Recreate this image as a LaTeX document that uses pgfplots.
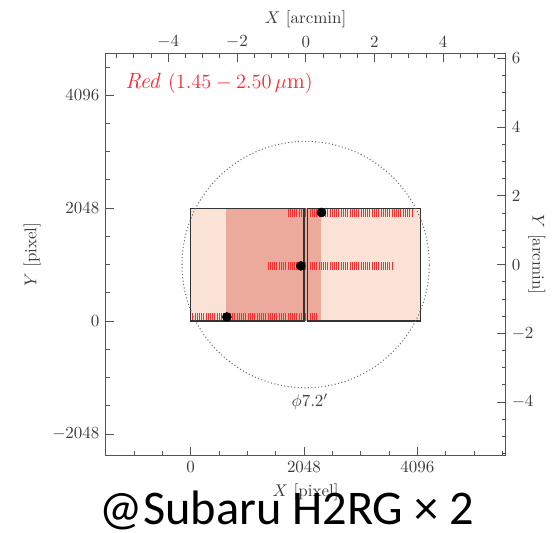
\documentclass[border=0pt]{standalone}
\usepackage{fontspec}
\newfontfamily\carlito{Carlito}
\usepackage{pgfplots}
\pgfplotsset{compat=1.18}
\definecolor{peach}{RGB}{250,227,214}
\definecolor{salmon}{RGB}{235,170,156}
\definecolor{dashred}{RGB}{255,45,45}
\definecolor{axgray}{RGB}{85,85,85}
\definecolor{txtgray}{RGB}{60,60,60}
\pgfplotsset{dashrow/.style={quiver={u=0, v=150, every arrow/.append style={draw=dashred, line width=0.6pt}}, draw=dashred, mark=none}}
\begin{document}
\begin{tikzpicture}
\useasboundingbox (-62.1pt,-45.3pt) rectangle (264.9pt,268.3pt);
\begin{axis}[
  at={(0,0)}, anchor=south west, scale only axis,
  width=235.9pt, height=236.5pt,
  xmin=-1540, xmax=5694, ymin=-2436, ymax=4844,
  xtick={0,2048,4096}, ytick={-2048,0,2048,4096},
  minor xtick={-1536,-1024,-512,512,1024,1536,2560,3072,3584,4608,5120,5632},
  minor ytick={-1536,-1024,-512,512,1024,1536,2560,3072,3584,4608},
  xtick pos=bottom, ytick pos=left,
  tick align=inside,
  major tick length=5pt, minor tick length=2.5pt,
  axis line style={axgray, line width=0.6pt},
  every tick/.style={axgray, line width=0.5pt},
  scaled ticks=false,
  /pgf/number format/1000 sep={},
  tick label style={text=txtgray},
  label style={text=txtgray},
  xlabel={$X$ [pixel]}, ylabel={$Y$ [pixel]},
  clip=false,
]
% detector areas
\addplot[fill=peach, draw=none] coordinates {(0,0) (2048,0) (2048,2048) (0,2048)} -- cycle;
\addplot[fill=peach, draw=none] coordinates {(2108,0) (4156,0) (4156,2048) (2108,2048)} -- cycle;
\addplot[fill=salmon, draw=none] coordinates {(640,0) (2355,0) (2355,2048) (640,2048)} -- cycle;
% dispersed spectra (red dashes), each dash from y to y+150
\addplot[dashrow] coordinates {
(40,0)(80,0)(120,0)(160,0)(200,0)(240,0)(280,0)(320,0)(360,0)(400,0)(440,0)(480,0)(520,0)(560,0)(600,0)(640,0)(680,0)(720,0)(760,0)(800,0)(840,0)(880,0)(920,0)(960,0)(1000,0)(1040,0)(1080,0)(1120,0)(1160,0)(1200,0)(1240,0)(1280,0)(1320,0)(1360,0)(1400,0)(1440,0)(1480,0)(1520,0)(1560,0)(1600,0)(1640,0)(1680,0)(1720,0)(1760,0)(1800,0)(1840,0)(1880,0)(1920,0)(1960,0)(2000,0)(2040,0)(2080,0)(2120,0)(2160,0)(2200,0)(2240,0)(2280,0)
};
\addplot[dashrow] coordinates {
(1400,925)(1440,925)(1480,925)(1520,925)(1560,925)(1600,925)(1640,925)(1680,925)(1720,925)(1760,925)(1800,925)(1840,925)(1880,925)(1920,925)(1960,925)(2000,925)(2040,925)(2080,925)(2120,925)(2160,925)(2200,925)(2240,925)(2280,925)(2320,925)(2360,925)(2400,925)(2440,925)(2480,925)(2520,925)(2560,925)(2600,925)(2640,925)(2680,925)(2720,925)(2760,925)(2800,925)(2840,925)(2880,925)(2920,925)(2960,925)(3000,925)(3040,925)(3080,925)(3120,925)(3160,925)(3200,925)(3240,925)(3280,925)(3320,925)(3360,925)(3400,925)(3440,925)(3480,925)(3520,925)(3560,925)(3600,925)(3640,925)
};
\addplot[dashrow] coordinates {
(1760,1895)(1800,1895)(1840,1895)(1880,1895)(1920,1895)(1960,1895)(2000,1895)(2040,1895)(2080,1895)(2120,1895)(2160,1895)(2200,1895)(2240,1895)(2280,1895)(2320,1895)(2360,1895)(2400,1895)(2440,1895)(2480,1895)(2520,1895)(2560,1895)(2600,1895)(2640,1895)(2680,1895)(2720,1895)(2760,1895)(2800,1895)(2840,1895)(2880,1895)(2920,1895)(2960,1895)(3000,1895)(3040,1895)(3080,1895)(3120,1895)(3160,1895)(3200,1895)(3240,1895)(3280,1895)(3320,1895)(3360,1895)(3400,1895)(3440,1895)(3480,1895)(3520,1895)(3560,1895)(3600,1895)(3640,1895)(3680,1895)(3720,1895)(3760,1895)(3800,1895)(3840,1895)(3880,1895)(3920,1895)(3960,1895)(4000,1895)
};
% detector outlines
\addplot[draw=black!80, line width=0.7pt] coordinates {(0,0) (2048,0) (2048,2048) (0,2048)} -- cycle;
\addplot[draw=black!80, line width=0.7pt] coordinates {(2108,0) (4156,0) (4156,2048) (2108,2048)} -- cycle;
% reference points
\addplot[only marks, mark=*, mark size=2.6pt, black] coordinates {(655,75) (1990,1000) (2362,1970)};
% field of view
\draw[black!60, line width=0.6pt, dash pattern=on 0.6pt off 1.4pt] (axis cs:2078,1024) ellipse [x radius=2234, y radius=2234];
\node[text=txtgray] at (axis cs:2156,-1462) {$\phi 7.2'$};
\node[anchor=west, text={rgb,255:red,250;green,40;blue,50}, inner sep=0pt, font=\fontsize{13.0}{16}\selectfont] at ([xshift=11.5pt,yshift=-17.3pt]rel axis cs:0,1) {\textit{Red} $(1.45-2.50\,\mu\mathrm{m})$};
\end{axis}
\begin{axis}[
  at={(0,0)}, anchor=south west, scale only axis,
  width=235.9pt, height=236.5pt,
  xmin=-5.83, xmax=5.82, ymin=-5.55, ymax=6.13,
  axis x line*=top, axis y line*=right,
  xtick={-4,-2,0,2,4}, ytick={-4,-2,0,2,4,6},
  minor xtick={-5.5,-5,-4.5,-3.5,-3,-2.5,-1.5,-1,-0.5,0.5,1,1.5,2.5,3,3.5,4.5,5,5.5},
  minor ytick={-5.5,-5,-4.5,-3.5,-3,-2.5,-1.5,-1,-0.5,0.5,1,1.5,2.5,3,3.5,4.5,5,5.5},
  tick align=inside,
  major tick length=5pt, minor tick length=2.5pt,
  axis line style={axgray, line width=0.6pt},
  every tick/.style={axgray, line width=0.5pt},
  tick label style={text=txtgray},
  label style={text=txtgray},
  xlabel={$X$ [arcmin]}, ylabel={$Y$ [arcmin]},
  xlabel style={yshift=-2.5pt},
  ylabel style={at={([xshift=18.3pt]rel axis cs:1,0.5)}, anchor=center, rotate=180},
]
\addplot[draw=none] coordinates {(0,0)};
\end{axis}
\node[anchor=base west, inner sep=0pt, font=\carlito\fontsize{28.5}{31}\selectfont] at (-3.5pt,-41.0pt) {@Subaru H2RG × 2};
\end{tikzpicture}
\end{document}
